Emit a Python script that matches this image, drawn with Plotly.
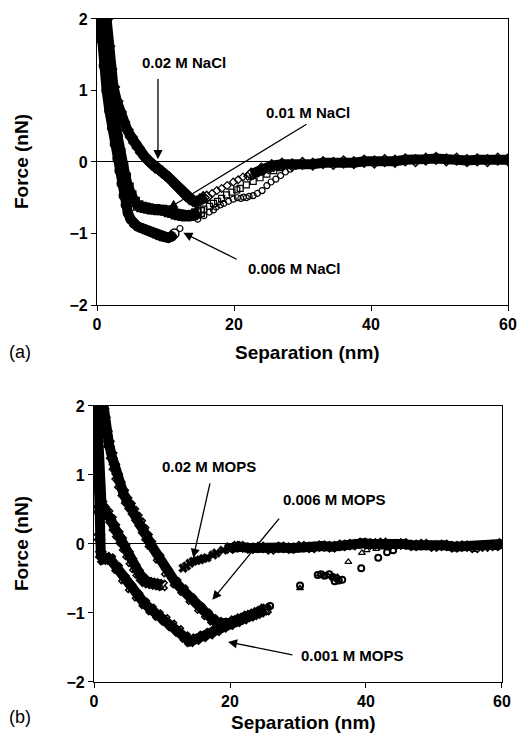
import plotly.graph_objects as go

# ---------------- Panel (a): NaCl ----------------
# dense (overlapping markers) portions
nacl02_x = [1.4, 1.7, 2.0, 2.4, 2.9, 3.4, 3.9, 4.4, 5.0, 5.5, 6.0, 6.5, 7.0, 7.5, 8.0, 8.5, 9.0, 9.5, 10.0, 10.5,
            11.0, 11.5, 12.0, 12.5, 13.0, 13.5, 14.0, 14.5, 15.0, 15.5, 16.0]
nacl02_y = [2.0, 1.62, 1.3, 1.05, 0.85, 0.7, 0.56, 0.45, 0.35, 0.27, 0.2, 0.13, 0.07, 0.02, -0.03, -0.07, -0.1, -0.14,
            -0.18, -0.22, -0.27, -0.32, -0.37, -0.42, -0.47, -0.51, -0.54, -0.56, -0.53, -0.5, -0.49]
nacl01_x = [0.9, 1.1, 1.4, 1.8, 2.2, 2.6, 3.0, 3.4, 3.8, 4.2, 4.6, 5.0, 5.5, 6.0, 6.5, 7.0, 7.5, 8.0, 8.5, 9.0, 9.5,
            10.0, 10.5, 11.0, 11.5, 12.0, 12.5, 13.0, 13.5, 14.0, 14.5, 15.0]
nacl01_y = [2.0, 1.65, 1.3, 1.0, 0.75, 0.52, 0.32, 0.12, -0.06, -0.22, -0.36, -0.47, -0.56, -0.61, -0.63, -0.64, -0.65,
            -0.66, -0.66, -0.67, -0.67, -0.68, -0.7, -0.71, -0.73, -0.74, -0.75, -0.76, -0.75, -0.74, -0.72, -0.7]
nacl006_x = [0.5, 0.7, 1.0, 1.4, 1.8, 2.2, 2.6, 3.0, 3.3, 3.6, 3.9, 4.2, 4.5, 4.9, 5.4, 5.9, 6.4, 6.9, 7.4, 7.9, 8.4,
             8.9, 9.4, 9.9, 10.4, 10.9, 11.3]
nacl006_y = [2.0, 1.7, 1.35, 1.0, 0.72, 0.48, 0.25, 0.05, -0.12, -0.3, -0.47, -0.6, -0.71, -0.8, -0.86, -0.9, -0.92,
             -0.94, -0.96, -0.98, -1.0, -1.02, -1.04, -1.05, -1.06, -1.04, -1.0]
# sparse (individual open markers)
nacl02_sx = [16.8, 17.5, 18.2, 19.0, 19.9, 20.6, 21.3, 22.0, 22.8, 23.6, 24.3, 25.0, 25.8, 26.5]
nacl02_sy = [-0.44, -0.4, -0.37, -0.33, -0.28, -0.25, -0.21, -0.2, -0.19, -0.15, -0.13, -0.11, -0.08, -0.06]
nacl01_sx = [15.6, 16.4, 17.0, 17.6, 18.2, 18.9, 19.7, 20.4, 20.9, 21.8, 22.8, 23.8, 24.8, 25.8, 26.8, 27.8]
nacl01_sy = [-0.66, -0.62, -0.58, -0.55, -0.51, -0.46, -0.42, -0.39, -0.37, -0.32, -0.27, -0.22, -0.17, -0.12, -0.08,
             -0.04]
nacl006_sx = [12.1, 14.7, 15.6, 16.4, 17.0, 17.4, 18.0, 18.5, 19.2, 19.9, 20.5, 21.0, 21.4, 21.8, 22.2, 22.8, 23.4,
              24.1, 24.8, 25.4, 26.1, 26.8, 27.5, 28.2, 29.0]
nacl006_sy = [-0.93, -0.8, -0.75, -0.7, -0.67, -0.63, -0.6, -0.58, -0.55, -0.52, -0.5, -0.51, -0.49, -0.5, -0.48,
              -0.47, -0.44, -0.4, -0.33, -0.28, -0.24, -0.19, -0.14, -0.1, -0.06]
# long-range tail (all three overlap)
nacl_tail_x = [22.5, 24.0, 25.5, 27.0, 28.5, 30.0, 31.5, 33.0, 34.5, 36.0, 37.5, 39.0, 40.5, 42.0, 43.5, 45.0, 46.5,
               48.0, 49.5, 51.0, 52.5, 54.0, 55.5, 57.0, 58.5, 60.0]
nacl_tail_y = [-0.17, -0.1, -0.05, -0.03, -0.04, -0.02, -0.03, -0.01, -0.02, 0.0, -0.01, 0.01, 0.0, 0.02, 0.01, 0.03,
               0.02, 0.04, 0.05, 0.03, 0.04, 0.02, 0.03, 0.02, 0.04, 0.03]

# ---------------- Panel (b): MOPS ----------------
mops02_x = [0.4, 0.5, 0.6, 0.8, 1.1, 1.5, 2.0, 2.5, 3.0, 3.5, 4.0, 4.5, 5.0, 5.5, 6.0, 6.5, 7.0, 7.5, 8.0, 8.5, 9.0,
            9.5, 10.0]
mops02_y = [2.0, 1.6, 1.2, 0.8, 0.58, 0.5, 0.44, 0.35, 0.24, 0.14, 0.05, -0.05, -0.15, -0.25, -0.34, -0.42, -0.49,
            -0.54, -0.56, -0.57, -0.58, -0.59, -0.6]
mops001_x = [0.4, 0.5, 0.6, 0.7, 0.8, 1.0, 1.3, 1.8, 2.4, 3.4, 4.4, 5.4, 6.4, 7.4, 8.4, 9.4, 10.4, 11.4, 12.4, 13.4,
             14.1, 15.0, 16.0, 17.0, 18.0, 19.0, 20.0, 21.0, 22.0, 23.0, 24.0, 25.0]
mops001_y = [2.0, 1.5, 1.0, 0.5, 0.1, -0.15, -0.22, -0.2, -0.22, -0.35, -0.5, -0.63, -0.75, -0.86, -0.95, -1.03, -1.1,
             -1.18, -1.26, -1.35, -1.41, -1.38, -1.34, -1.3, -1.25, -1.2, -1.16, -1.12, -1.08, -1.04, -1.0, -0.95]
mops006_x = [1.4, 1.6, 1.9, 2.2, 2.6, 3.0, 3.4, 3.8, 4.3, 4.8, 5.3, 5.8, 6.3, 6.8, 7.3, 7.8, 8.3, 9.5, 10.7, 12.0,
             13.1, 14.3, 15.6, 16.6, 17.5, 18.3, 19.0, 19.8, 20.6, 21.5, 22.5, 23.5, 24.5, 25.3]
mops006_y = [2.0, 1.8, 1.6, 1.45, 1.28, 1.12, 0.98, 0.86, 0.74, 0.63, 0.55, 0.47, 0.38, 0.3, 0.2, 0.1, 0.0, -0.2, -0.4,
             -0.56, -0.67, -0.8, -0.93, -1.02, -1.1, -1.14, -1.16, -1.15, -1.12, -1.09, -1.05, -1.02, -0.98, -0.95]
# sparse markers
mops02_sx = [13.1, 13.6, 14.1, 14.6, 15.1, 15.6, 16.1, 16.6, 17.5, 18.0, 19.0, 20.0, 21.0]
mops02_sy = [-0.35, -0.32, -0.28, -0.25, -0.24, -0.23, -0.21, -0.2, -0.16, -0.13, -0.09, -0.05, -0.02]
mops006_sx = [25.6, 30.3, 33.2, 33.8, 34.5, 35.2, 35.8, 37.4, 39.4, 40.1, 41.5, 42.5]
mops006_sy = [-0.93, -0.64, -0.44, -0.46, -0.47, -0.5, -0.48, -0.26, -0.13, -0.09, -0.07, -0.05]
mops001_sx = [25.9, 30.3, 32.9, 33.4, 33.9, 34.6, 35.1, 35.4, 35.7, 36.0, 36.5, 39.3, 41.8, 43.1, 44.0]
mops001_sy = [-0.9, -0.6, -0.45, -0.44, -0.46, -0.44, -0.48, -0.54, -0.5, -0.53, -0.52, -0.35, -0.2, -0.12, -0.09]
# long-range tail
mops_tail_x = [20.0, 21.5, 23.0, 24.5, 26.0, 27.5, 29.0, 30.5, 32.0, 33.5, 35.0, 36.5, 38.0, 39.5, 41.0, 42.5, 44.0,
               45.5, 47.0, 48.5, 50.0, 51.5, 53.0, 54.5, 56.0, 57.5, 59.0, 60.0]
mops_tail_y = [-0.06, -0.04, -0.06, -0.05, -0.07, -0.05, -0.06, -0.04, -0.05, -0.03, -0.04, -0.02, -0.01, 0.01, 0.0,
               0.01, -0.01, 0.0, -0.02, -0.01, -0.03, -0.02, -0.04, -0.03, -0.05, -0.03, -0.02, 0.0]

x_ticks = [0, 20, 40, 60]
y_ticks = [-2, -1, 0, 1, 2]

FONT = "Arial, Liberation Sans, sans-serif"
fig = go.Figure()


def dense(x, y, sym, xa, ya):
    fig.add_trace(go.Scatter(x=x, y=y, mode="lines+markers", xaxis=xa, yaxis=ya,
                             line=dict(color="black", width=10),
                             marker=dict(symbol=sym, size=9, color="black", line=dict(color="black", width=1.5)),
                             showlegend=False, hoverinfo="skip"))


def sparse(x, y, sym, xa, ya, size=6, lw=1.2):
    fig.add_trace(go.Scatter(x=x, y=y, mode="markers", xaxis=xa, yaxis=ya,
                             marker=dict(symbol=sym, size=size, color="black", line=dict(color="black", width=lw)),
                             showlegend=False, hoverinfo="skip"))


# panel a
dense(nacl006_x, nacl006_y, "circle-open", "x", "y")
dense(nacl01_x, nacl01_y, "square-open", "x", "y")
dense(nacl02_x, nacl02_y, "diamond-open", "x", "y")
sparse(nacl02_sx, nacl02_sy, "diamond-open", "x", "y")
sparse(nacl01_sx, nacl01_sy, "square-open", "x", "y")
sparse(nacl006_sx, nacl006_sy, "circle-open", "x", "y")
dense(nacl_tail_x, nacl_tail_y, "diamond-open", "x", "y")

# panel b
dense(mops001_x, mops001_y, "x-open", "x2", "y2")
dense(mops006_x, mops006_y, "x-open", "x2", "y2")
dense(mops02_x, mops02_y, "x-open", "x2", "y2")
sparse(mops02_sx, mops02_sy, "x", "x2", "y2", size=8, lw=0.5)
sparse(mops006_sx, mops006_sy, "triangle-up-open", "x2", "y2")
sparse(mops001_sx, mops001_sy, "circle-open", "x2", "y2", size=6, lw=2)
dense(mops_tail_x, mops_tail_y, "x-open", "x2", "y2")

axis_common = dict(showline=True, mirror=True, linecolor="black", linewidth=1.2, showgrid=False,
                   ticks="outside", ticklen=5, tickwidth=1.2, tickcolor="black", automargin=False,
                   tickfont=dict(family=FONT, size=16, color="black", weight="bold"))

fig.update_layout(
    width=518, height=738,
    margin=dict(l=0, r=0, t=0, b=0, pad=0, autoexpand=False),
    paper_bgcolor="white", plot_bgcolor="white",
    xaxis=dict(domain=[0.1873, 0.9807], range=[0, 60], tickvals=x_ticks, zeroline=False, anchor="y", **axis_common),
    yaxis=dict(domain=[0.5867, 0.9743], range=[-2, 2], tickvals=y_ticks, zeroline=True, zerolinecolor="black",
               zerolinewidth=1, anchor="x", **axis_common),
    xaxis2=dict(domain=[0.1815, 0.9691], range=[0, 60], tickvals=x_ticks, zeroline=False, anchor="y2",
                **axis_common),
    yaxis2=dict(domain=[0.0759, 0.4499], range=[-2, 2], tickvals=y_ticks, zeroline=True, zerolinecolor="black",
                zerolinewidth=1, anchor="x2", **axis_common),
)

ann = []
lab_font = dict(family=FONT, size=15, color="black", weight="bold")


def label(text, x, y, xr, yr):
    ann.append(dict(text=text, x=x, y=y, xref=xr, yref=yr, showarrow=False, font=lab_font,
                    xanchor="center", yanchor="middle"))


def arrow(x0, y0, x1, y1, xr, yr):
    ann.append(dict(text="", x=x1, y=y1, ax=x0, ay=y0, xref=xr, yref=yr, axref=xr, ayref=yr,
                    showarrow=True, arrowhead=2, arrowsize=1.4, arrowwidth=1.3, arrowcolor="black", standoff=0))


label("0.02 M NaCl", 12.7, 1.39, "x", "y")
arrow(8.9, 1.18, 8.9, 0.04, "x", "y")
label("0.01 M NaCl", 30.8, 0.69, "x", "y")
arrow(30.8, 0.54, 10.4, -0.65, "x", "y")
label("0.006 M NaCl", 28.8, -1.49, "x", "y")
arrow(20.6, -1.37, 12.6, -0.99, "x", "y")

label("0.02 M MOPS", 16.9, 1.13, "x2", "y2")
arrow(17.1, 0.9, 14.6, -0.2, "x2", "y2")
label("0.006 M MOPS", 35.4, 0.64, "x2", "y2")
arrow(27.4, 0.39, 17.4, -0.81, "x2", "y2")
label("0.001 M MOPS", 38.0, -1.61, "x2", "y2")
arrow(29.4, -1.61, 19.7, -1.42, "x2", "y2")

title_font = dict(family=FONT, size=19, color="black", weight="bold")
ann.append(dict(text="Force (nN)", x=0.0425, y=0.7805, xref="paper", yref="paper", showarrow=False,
                textangle=-90, font=title_font, xanchor="center", yanchor="middle"))
ann.append(dict(text="Force (nN)", x=0.0425, y=0.2629, xref="paper", yref="paper", showarrow=False,
                textangle=-90, font=title_font, xanchor="center", yanchor="middle"))
ann.append(dict(text="Separation (nm)", x=0.5927, y=0.5217, xref="paper", yref="paper", showarrow=False,
                font=title_font, xanchor="center", yanchor="middle"))
ann.append(dict(text="Separation (nm)", x=0.585, y=0.0205, xref="paper", yref="paper", showarrow=False,
                font=title_font, xanchor="center", yanchor="middle"))
ann.append(dict(text="(a)", x=0.0386, y=0.523, xref="paper", yref="paper", showarrow=False,
                font=dict(family=FONT, size=18, color="black"), xanchor="center", yanchor="middle"))
ann.append(dict(text="(b)", x=0.0386, y=0.0285, xref="paper", yref="paper", showarrow=False,
                font=dict(family=FONT, size=18, color="black"), xanchor="center", yanchor="middle"))

fig.update_layout(annotations=ann)
fig.write_html("out.html", config={"displayModeBar": False},
               post_script="document.body.style.margin='0';document.body.style.padding='0';"
                           "document.body.style.overflow='hidden';")
